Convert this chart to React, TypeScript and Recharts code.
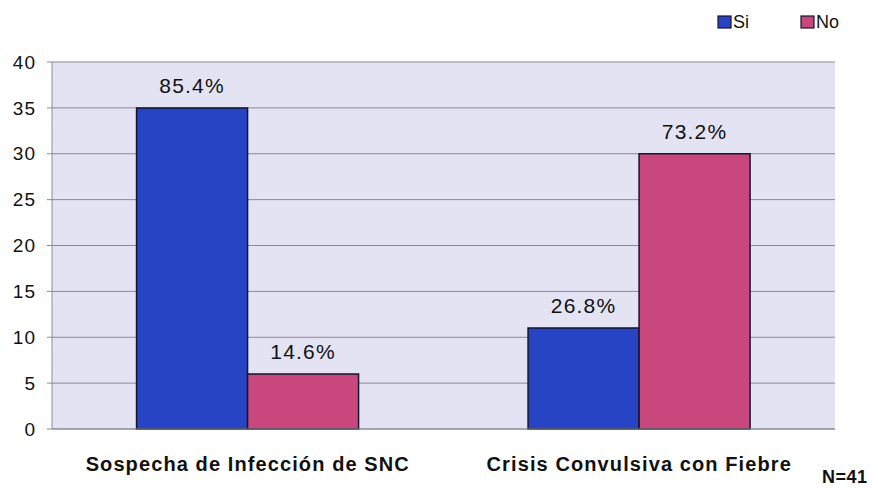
import React from "react";
import {
  BarChart,
  Bar,
  XAxis,
  YAxis,
  CartesianGrid,
  LabelList,
  Customized,
} from "recharts";

// Pacientes evaluados (N) y respuestas por criterio
const TOTAL = 41;
const categories = ["Sospecha de Infección de SNC", "Crisis Convulsiva con Fiebre"];
const siValues = [35, 11];
const noValues = [6, 30];
const yTicks = [0, 5, 10, 15, 20, 25, 30, 35, 40];
const seriesNames = ["Si", "No"];

const data = categories.map((name, i) => ({
  name,
  si: siValues[i],
  no: noValues[i],
}));

const FONT = "'Liberation Sans', Arial, Helvetica, sans-serif";
const BLUE = "#2744c4";
const PINK = "#c8487e";
const EDGE = "#15152e";

const percentLabel = (props: any) => {
  const { x, y, width, value } = props;
  const pct = ((Number(value) / TOTAL) * 100).toFixed(1) + "%";
  return (
    <text
      x={Number(x) + Number(width) / 2}
      y={Number(y) - 15}
      textAnchor="middle"
      fontFamily={FONT}
      fontSize={21}
      letterSpacing={1.2}
      fill="#111"
    >
      {pct}
    </text>
  );
};

const LegendAndNote = () => {
  const items = [
    { name: seriesNames[0], color: BLUE, x: 718 },
    { name: seriesNames[1], color: PINK, x: 801 },
  ];
  return (
    <g fontFamily={FONT}>
      {items.map((it) => (
        <g key={it.name}>
          <rect x={it.x} y={16} width={13} height={12} fill={it.color} stroke={EDGE} strokeWidth={1.2} />
          <text x={it.x + 15} y={28} fontSize={18} fill="#111">
            {it.name}
          </text>
        </g>
      ))}
      <text x={822} y={483} fontSize={18} fontWeight="bold" letterSpacing={0.5} fill="#111">
        {"N=" + TOTAL}
      </text>
    </g>
  );
};

export default function App() {
  return (
    <div style={{ position: "absolute", left: 0, top: 0, background: "#fff" }}>
      <BarChart
        width={878}
        height={488}
        data={data}
        margin={{ top: 62, right: 43, bottom: 19, left: 0 }}
        barCategoryGap="21.6%"
        barGap={0}
      >
        <CartesianGrid
          vertical={false}
          stroke="#8a8a96"
          strokeWidth={1}
          fill="#e3e3f4"
        />
        <XAxis
          dataKey="name"
          height={40}
          axisLine={{ stroke: "#8a8a96" }}
          tickLine={false}
          tickSize={0}
          tickMargin={28}
          tick={{ fontFamily: FONT, fontSize: 20, fontWeight: "bold", fill: "#111", letterSpacing: 1.1 }}
          interval={0}
        />
        <YAxis
          width={52}
          domain={[0, 40]}
          ticks={yTicks}
          interval={0}
          axisLine={{ stroke: "#8a8a96" }}
          tickLine={{ stroke: "#8a8a96" }}
          tickSize={5}
          tickMargin={11}
          tick={{ fontFamily: FONT, fontSize: 19, fill: "#111", letterSpacing: 1 }}
        />
        <Bar dataKey="si" name={seriesNames[0]} fill={BLUE} stroke={EDGE} strokeWidth={1.5} isAnimationActive={false}>
          <LabelList dataKey="si" content={percentLabel} />
        </Bar>
        <Bar dataKey="no" name={seriesNames[1]} fill={PINK} stroke={EDGE} strokeWidth={1.5} isAnimationActive={false}>
          <LabelList dataKey="no" content={percentLabel} />
        </Bar>
        <Customized component={LegendAndNote} />
      </BarChart>
    </div>
  );
}
